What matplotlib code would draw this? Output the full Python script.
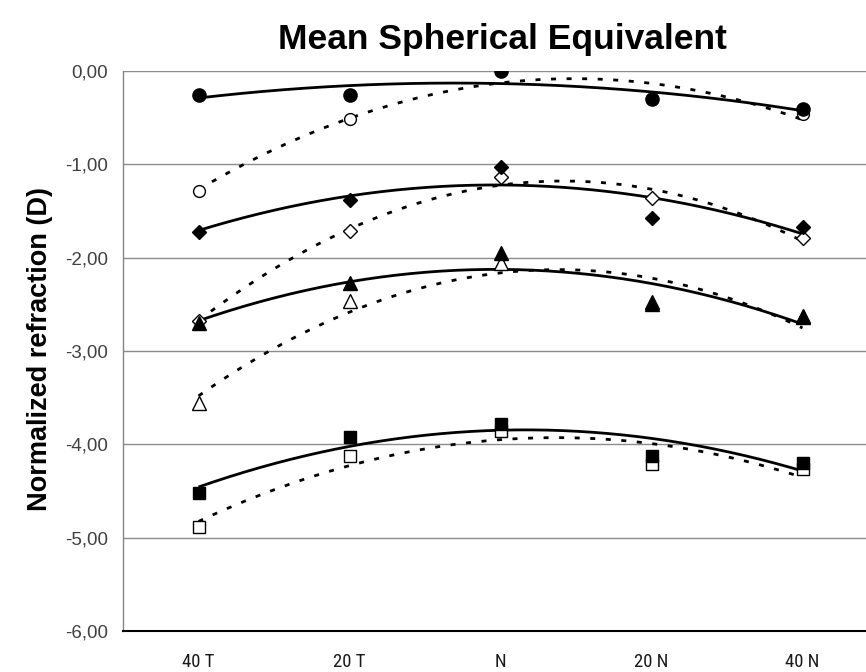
import numpy as np
import matplotlib
matplotlib.use("Agg")
import matplotlib.pyplot as plt
from matplotlib import font_manager

categories = ["40 T", "20 T", "N", "20 N", "40 N"]
yticks = [0, -1, -2, -3, -4, -5, -6]
ytick_labels = ["0,00", "-1,00", "-2,00", "-3,00", "-4,00", "-5,00", "-6,00"]

circle_filled = [-0.26, -0.26, 0.00, -0.30, -0.41]
circle_open = [-1.29, -0.51, 0.00, -0.30, -0.46]
diamond_filled = [-1.72, -1.38, -1.03, -1.57, -1.67]
diamond_open = [-2.68, -1.71, -1.14, -1.36, -1.79]
triangle_filled = [-2.70, -2.27, -1.95, -2.50, -2.63]
triangle_open = [-3.56, -2.46, -2.06, -2.48, -2.64]
square_filled = [-4.52, -3.92, -3.78, -4.13, -4.20]
square_open = [-4.89, -4.13, -3.86, -4.21, -4.26]

series = [
    (circle_filled, "o", True, 9.5),
    (circle_open, "o", False, 8.5),
    (diamond_filled, "D", True, 7.2),
    (diamond_open, "D", False, 6.8),
    (triangle_filled, "^", True, 10),
    (triangle_open, "^", False, 9.5),
    (square_filled, "s", True, 8.5),
    (square_open, "s", False, 8),
]

def has_font(name):
    try:
        font_manager.findfont(name, fallback_to_default=False)
        return True
    except Exception:
        return False

main_font = "Liberation Sans" if has_font("Liberation Sans") else "DejaVu Sans"
narrow_font = main_font
for cand in ["Liberation Sans Narrow", "Arial Narrow", "Roboto Condensed",
             "Open Sans Condensed", "DejaVu Sans Condensed"]:
    if has_font(cand):
        narrow_font = cand
        break

fig = plt.figure(figsize=(8.66, 6.72), dpi=100)
ax = fig.add_axes([123 / 866, 41 / 672, 755 / 866, 560 / 672])

x = np.arange(len(categories))
xs = np.linspace(0, len(categories) - 1, 200)

# trendlines (2nd order polynomial)
for vals, m, filled, ms in series:
    coef = np.polyfit(x, vals, 2)
    ys = np.polyval(coef, xs)
    if filled:
        ax.plot(xs, ys, color="black", lw=2.0, solid_capstyle="butt", zorder=3)
    else:
        ax.plot(xs, ys, color="black", lw=2.0, linestyle=(0, (1.8, 3.8)),
                dash_capstyle="butt", zorder=3)

for vals, m, filled, ms in series:
    if filled:
        ax.plot(x, vals, linestyle="none", marker=m, markersize=ms,
                markerfacecolor="black", markeredgecolor="black", zorder=5)
    else:
        ax.plot(x, vals, linestyle="none", marker=m, markersize=ms,
                markerfacecolor="white", markeredgecolor="black",
                markeredgewidth=1.0, zorder=4)

ax.set_xlim(-0.5, len(categories) - 0.5)
ax.set_ylim(-6, 0)
ax.set_xticks(x)
ax.set_xticklabels(categories, family=narrow_font, fontsize=13.5, color="#1a1a1a")
ax.set_yticks(yticks)
ax.set_yticklabels(ytick_labels, family=main_font, fontsize=13.5, color="#404040")
ax.tick_params(axis="both", length=0)
ax.tick_params(axis="x", pad=16)
ax.tick_params(axis="y", pad=11)

ax.grid(axis="y", color="#8c8c8c", lw=1.0)
ax.set_axisbelow(True)
for s in ["top", "right"]:
    ax.spines[s].set_visible(False)
ax.spines["left"].set_color("#868686")
ax.spines["left"].set_linewidth(1.0)
ax.spines["bottom"].set_color("black")
ax.spines["bottom"].set_linewidth(1.5)
ax.spines["bottom"].set_zorder(6)

fig.text(40 / 866, 1 - 349 / 672, "Normalized refraction (D)", family=main_font,
         fontsize=19.5, fontweight="bold", rotation=90, ha="center", va="center")
fig.text(502 / 866, 1 - 39 / 672, "Mean Spherical Equivalent", family=main_font,
         fontsize=25.5, fontweight="bold", ha="center", va="center")

fig.savefig("out.png", dpi=100)
